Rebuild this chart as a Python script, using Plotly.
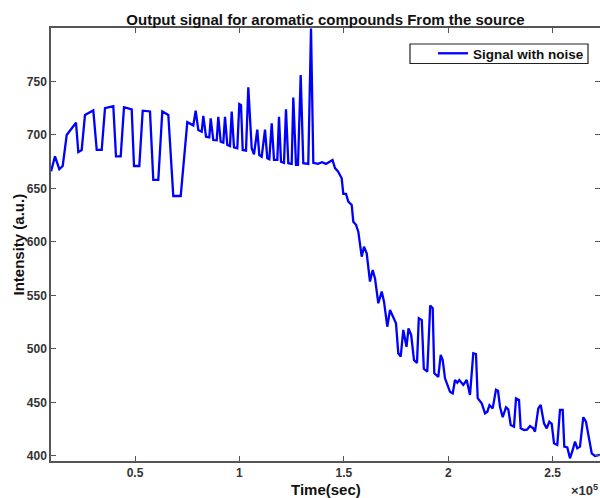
import plotly.graph_objects as go

# Time in units of 1e5 seconds (as displayed on the axis, "x10^5")
time_1e5 = [
    0.0977, 0.1169, 0.1375, 0.1538, 0.1729, 0.2045, 0.2174, 0.2285, 0.2447, 0.2605,
    0.2926, 0.3003, 0.3166, 0.3405, 0.3563, 0.3961, 0.4090, 0.4315, 0.4473, 0.4842,
    0.4952, 0.5206, 0.5369, 0.5718, 0.5876, 0.6116, 0.6307, 0.6595, 0.6834, 0.7189,
    0.7505, 0.7792, 0.7907, 0.8031, 0.8194, 0.8271, 0.8400, 0.8558, 0.8625, 0.8750,
    0.8913, 0.8989, 0.9104, 0.9229, 0.9310, 0.9420, 0.9550, 0.9631, 0.9741, 0.9899,
    0.9995, 1.0076, 1.0158, 1.0316, 1.0426, 1.0589, 1.0699, 1.0857, 1.0953, 1.1068,
    1.1226, 1.1336, 1.1432, 1.1547, 1.1657, 1.1815, 1.1896, 1.1992, 1.2136, 1.2231,
    1.2342, 1.2504, 1.2581, 1.2710, 1.2806, 1.2935, 1.3060, 1.3299, 1.3429, 1.3539,
    1.3764, 1.3955, 1.4147, 1.4338, 1.4458, 1.4578, 1.4722, 1.4899, 1.4976, 1.5105,
    1.5215, 1.5378, 1.5455, 1.5584, 1.5694, 1.5857, 1.5967, 1.6096, 1.6254, 1.6383,
    1.6494, 1.6652, 1.6815, 1.6925, 1.7083, 1.7212, 1.7370, 1.7499, 1.7609, 1.7724,
    1.7849, 1.8002, 1.8098, 1.8227, 1.8361, 1.8505, 1.8591, 1.8735, 1.8831, 1.8998,
    1.9137, 1.9257, 1.9333, 1.9525, 1.9640, 1.9736, 1.9846, 2.0085, 2.0215, 2.0325,
    2.0435, 2.0531, 2.0722, 2.0885, 2.1043, 2.1201, 2.1330, 2.1412, 2.1604, 2.1762,
    2.1872, 2.1977, 2.2130, 2.2288, 2.2384, 2.2480, 2.2609, 2.2767, 2.2877, 2.2992,
    2.3150, 2.3246, 2.3390, 2.3471, 2.3629, 2.3773, 2.3917, 2.4075, 2.4156, 2.4314,
    2.4429, 2.4587, 2.4717, 2.4841, 2.4956, 2.5066, 2.5224, 2.5353, 2.5483, 2.5559,
    2.5703, 2.5832, 2.5962, 2.6072, 2.6182, 2.6311, 2.6469, 2.6598, 2.6872, 2.7029,
    2.7269,
]

intensity = [
    666, 680, 668, 671, 700, 709, 711.5, 684, 686, 718.7,
    722, 723, 686, 686, 725, 727, 680, 680, 726, 724,
    671, 671, 722.7, 722, 658, 658, 722, 718.7, 643, 643,
    712, 709, 722.7, 704.7, 703, 717.8, 698.4, 697.8, 715.6, 695.3,
    695, 717, 693.7, 692.8, 717, 690.7, 689.7, 722, 688.5, 687.6,
    729, 728, 686, 685.4, 744.6, 687.6, 682, 705, 681.3, 679.7,
    705, 678.2, 677.3, 711, 676.7, 676.7, 717, 675, 674, 724,
    673.6, 673, 735, 672, 672, 756, 673.6, 673, 799.5, 674,
    673, 674.5, 673, 675, 676.7, 669, 666, 659.5, 645, 645,
    637.7, 634.6, 619, 616, 609.6, 586.3, 595.6, 589.4, 563, 573.8,
    566, 542.7, 553.6, 544.2, 520.8, 536.5, 528.7, 524, 496, 492.8,
    517.8, 502, 519.3, 513, 489.5, 487, 528.7, 527, 481.5, 478.8,
    540.5, 538, 477.3, 474, 494.4, 489.7, 472.6, 460, 458.5, 471,
    468.5, 471, 466.4, 471, 457, 496, 495.3, 454, 449.2, 439.8,
    441.4, 447.5, 444.5, 462, 461, 446, 436.2, 445.5, 443.6, 429,
    427.4, 453.9, 452.3, 425.8, 424.3, 424.5, 428, 425.8, 422.7, 444.5,
    447.7, 430.5, 425.8, 432, 430, 411.9, 410.3, 443, 443, 408.7,
    408, 397.8, 405.6, 413.4, 407.2, 408.7, 436.2, 432, 402.5, 400,
    401,
]

x_tick_vals_1e5 = [0.5, 1, 1.5, 2, 2.5]
x_tick_text = ["0.5", "1", "1.5", "2", "2.5"]
y_tick_vals = [400, 450, 500, 550, 600, 650, 700, 750]

time_s = [t * 1e5 for t in time_1e5]

FONT = "Liberation Sans, Arial, Helvetica, sans-serif"
AXC = "#555555"
L, R, T, B = 51, 0, 28, 37
PW, PH = 600 - L - R, 498 - T - B


def px_x(p):
    return (p - L) / PW


def px_y(p):
    return (T + PH - p) / PH


fig = go.Figure()
fig.add_trace(go.Scatter(
    x=time_s, y=intensity, mode="lines", name="Signal with noise",
    line=dict(color="#0000ff", width=2.3),
))

fig.update_layout(
    width=600, height=498,
    margin=dict(l=L, r=R, t=T, b=B, autoexpand=False),
    paper_bgcolor="white", plot_bgcolor="white",
    font=dict(family=FONT, size=12, color="#262626", weight="bold"),
    title=dict(
        text="Output signal for aromatic compounds From the source",
        x=0.5, xanchor="center", xref="paper",
        y=1 - 20 / 498, yanchor="middle", yref="container",
        font=dict(family=FONT, size=15, color="#111111", weight="bold"),
    ),
    showlegend=True,
    legend=dict(
        x=px_x(589), xanchor="right", y=px_y(53.5), yanchor="middle",
        bgcolor="rgba(0,0,0,0)", borderwidth=0,
        font=dict(family=FONT, size=13.5, color="#111111", weight="bold"),
    ),
    xaxis=dict(
        range=[0.0977e5, 2.7269e5], automargin=False,
        tickvals=[v * 1e5 for v in x_tick_vals_1e5], ticktext=x_tick_text,
        ticks="inside", ticklen=5, tickwidth=1.2, tickcolor=AXC,
        showline=True, linecolor=AXC, linewidth=1.5, mirror="ticks",
        showgrid=False, zeroline=False,
        tickfont=dict(family=FONT, size=12, color="#333333", weight="bold"),
    ),
    yaxis=dict(
        range=[395.3, 800], automargin=False,
        tickvals=y_tick_vals,
        ticks="inside", ticklen=5, tickwidth=1.2, tickcolor=AXC,
        showline=True, linecolor=AXC, linewidth=1.5, mirror="ticks",
        showgrid=False, zeroline=False,
        tickfont=dict(family=FONT, size=12, color="#333333", weight="bold"),
    ),
)

# legend frame
fig.add_shape(
    type="rect", xref="paper", yref="paper",
    x0=px_x(410), x1=px_x(588), y0=px_y(63.5), y1=px_y(44),
    fillcolor="white", line=dict(color="#222222", width=1.2), layer="above",
)

# axis titles
fig.add_annotation(
    text="Time(sec)", xref="paper", yref="paper",
    x=0.5, xanchor="center", y=px_y(489), yanchor="middle",
    showarrow=False, font=dict(family=FONT, size=15, color="#111111", weight="bold"),
)
fig.add_annotation(
    text="Intensity (a.u.)", xref="paper", yref="paper", textangle=-90,
    x=px_x(18), xanchor="center", y=0.5, yanchor="middle",
    showarrow=False, font=dict(family=FONT, size=15, color="#111111", weight="bold"),
)
fig.add_annotation(
    text="\u00d710<sup>5</sup>", xref="paper", yref="paper",
    x=1.0, xanchor="right", y=px_y(490), yanchor="middle",
    showarrow=False,
    font=dict(family=FONT, size=13, color="#333333", weight="bold"),
)

fig.write_html(
    "out.html",
    config={"displayModeBar": False},
    post_script="document.body.style.margin='0';document.body.style.overflow='hidden';",
)
